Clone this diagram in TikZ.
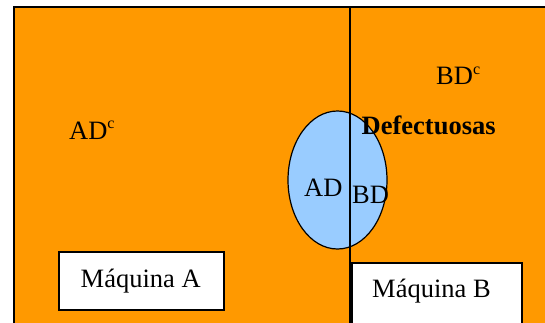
\documentclass[tikz,border=0pt]{standalone}
\usepackage{fontspec}
\usetikzlibrary{shapes.geometric}
\setmainfont{Liberation Serif}
\definecolor{setorange}{HTML}{FF9900}
\definecolor{setblue}{HTML}{99CCFF}
\begin{document}
\begin{tikzpicture}[x=1pt,y=-1pt,
  lbl/.style={anchor=base west,inner sep=0pt,font=\fontsize{26.5}{31}\selectfont},
  boxlbl/.style={draw=black,line width=1.2pt,fill=white,inner sep=0pt},
  edge/.style={line width=1.2pt,draw=black}]
\useasboundingbox (0,0) rectangle (545,322);
\clip (0,0) rectangle (545,322);
\fill[white] (0,0) rectangle (545,322);
\path[edge,fill=setorange] (14,7) rectangle (560,340);
\node[ellipse,minimum width=99pt,minimum height=138pt,inner sep=0pt,edge,fill=setblue] (ell) at (337.5,180) {};
\coordinate (divtop) at (350,7);
\coordinate (divbot) at (350,330);
\draw[edge] (divtop) -- (divbot);
\node[boxlbl,minimum width=165pt,minimum height=58pt] (boxA) at (141.5,281) {};
\node[boxlbl,minimum width=170pt,minimum height=62pt] (boxB) at (437,294) {};
\node[lbl] (adc) at (69,139) {AD\raisebox{0.85ex}{\fontsize{16}{18}\selectfont c}};
\node[lbl] (bdc) at (436,84.5) {BD\raisebox{0.85ex}{\fontsize{16}{18}\selectfont c}};
\node[lbl,font=\fontsize{26.5}{31}\selectfont\bfseries] (def) at (361.5,134) {Defectuosas};
\node[lbl] (ad) at (304,196) {AD};
\node[lbl] (bd) at (352,203) {BD};
\node[lbl] (ma) at (80.5,287.7) {Máquina A};
\node[lbl] (mb) at (372,297.7) {Máquina B};
\end{tikzpicture}
\end{document}
